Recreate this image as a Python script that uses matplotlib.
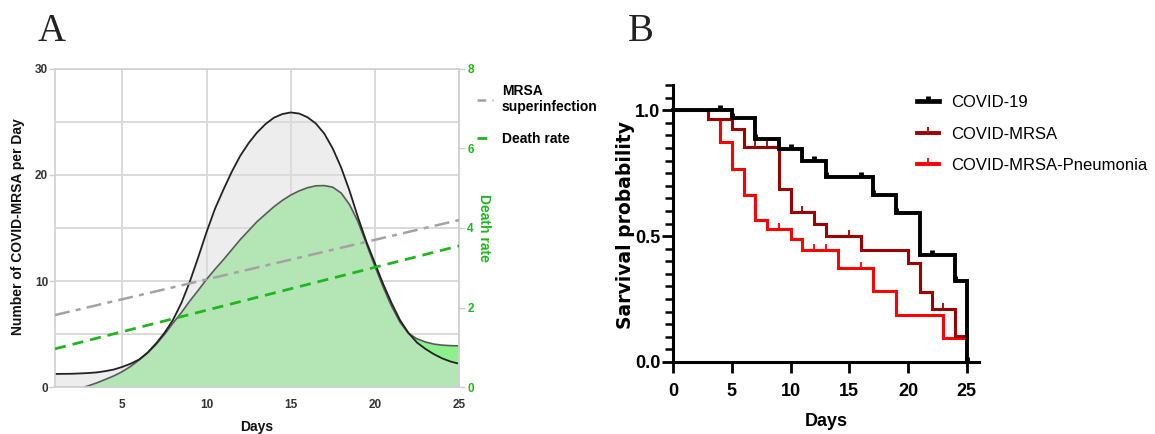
import numpy as np
import matplotlib
matplotlib.use("Agg")
import matplotlib.pyplot as plt
from matplotlib.lines import Line2D
from matplotlib.path import Path
from matplotlib.ticker import FixedLocator, MultipleLocator
from matplotlib import font_manager

plt.rcParams["font.family"] = ["Liberation Sans", "DejaVu Sans"]
installed = {f.name for f in font_manager.fontManager.ttflist}
NARROW = "Liberation Sans Narrow" in installed

# ---------------- panel A data ----------------
mrsa_days = np.arange(1, 25.01, 0.5)
mrsa_cases = [1.23, 1.24, 1.25, 1.28, 1.32, 1.38, 1.50, 1.65, 1.90, 2.20,
              2.60, 3.25, 4.10, 5.10, 6.30, 7.90, 9.90, 12.20, 14.60, 16.80,
              18.60, 20.30, 21.80, 23.00, 24.00, 24.80, 25.40, 25.75, 25.90, 25.80,
              25.45, 24.85, 23.90, 22.50, 20.70, 18.50, 16.00, 13.70, 11.70, 9.70,
              7.90, 6.30, 5.10, 4.20, 3.60, 3.10, 2.70, 2.40, 2.20]

death_days = np.r_[2.75, np.arange(3, 25.01, 0.5)]
death_cases = [0.0, 0.12, 0.40, 0.72, 1.05, 1.45, 1.95, 2.55, 3.20, 4.00,
               4.95, 6.00, 7.00, 8.10, 9.10, 10.15, 11.10, 12.00, 12.95, 13.90,
               14.75, 15.60, 16.30, 17.00, 17.60, 18.10, 18.50, 18.80, 18.98, 19.00,
               18.85, 18.30, 17.20, 15.60, 13.50, 11.40, 9.40, 7.60, 6.10, 5.05,
               4.55, 4.25, 4.05, 3.95, 3.90, 3.88]

trend_days = [1, 25]
mrsa_trend = [1.81, 4.20]     # right axis (rate) units
death_trend = [0.96, 3.55]

# ---------------- panel B data (Kaplan-Meier steps) ----------------
covid_t = [0, 5, 7, 9, 11, 13, 17, 19, 21, 24, 25]
covid_s = [1.0, 0.967, 0.887, 0.847, 0.80, 0.735, 0.665, 0.59, 0.424, 0.32, 0.0]
covid_cens = [4, 5, 7, 10, 12, 13, 16, 17, 19, 22, 24, 25]

mrsa_t = [0, 3, 5, 6, 9, 10, 12, 13, 16, 20, 21, 22, 24, 25]
mrsa_s = [1.0, 0.963, 0.924, 0.853, 0.688, 0.596, 0.549, 0.50, 0.443, 0.393,
          0.277, 0.21, 0.105, 0.105]
mrsa_cens = [7, 8, 11, 15, 23]

pneu_t = [0, 3, 4, 5, 6, 7, 8, 10, 11, 14, 17, 19, 23, 25]
pneu_s = [1.0, 0.963, 0.872, 0.766, 0.665, 0.563, 0.53, 0.487, 0.445, 0.373,
          0.283, 0.185, 0.097, 0.097]
pneu_cens = [9, 12, 13, 16]

GREEN = "#22b522"
W, H = 1155, 434
fig = plt.figure(figsize=(W / 100, H / 100), dpi=100)

# ================= panel A =================
ax = fig.add_axes([55 / W, 1 - 387 / H, 404 / W, 318 / H])
ax.set_xlim(1, 25)
ax.set_ylim(0, 30)
ax.set_axisbelow(True)

ax.fill_between(death_days, 0, death_cases, color="#8cf08c", lw=0, zorder=1)
ax.fill_between(mrsa_days, 0, mrsa_cases, color="#dcdcdc", alpha=0.5, lw=0, zorder=1.1)
ax.plot(death_days, death_cases, color="#5a5a5a", lw=1.2, zorder=2)
ax.plot(mrsa_days, mrsa_cases, color="#222222", lw=1.3, zorder=2.1)

ax.xaxis.set_major_locator(FixedLocator([5, 10, 15, 20, 25]))
ax.yaxis.set_major_locator(FixedLocator([0, 10, 20, 30]))
ax.yaxis.set_minor_locator(FixedLocator([5, 15, 25]))
ax.grid(True, which="both", color="#d9d9d9", lw=1.4)
ax.tick_params(axis="x", length=0, pad=9, labelsize=8.5, labelcolor="#333333")
ax.tick_params(axis="y", which="major", length=4, width=1, color="#cccccc",
               pad=1, labelsize=8.5, labelcolor="#333333")
ax.tick_params(axis="y", which="minor", length=0)
for lab in ax.get_xticklabels() + ax.get_yticklabels():
    lab.set_fontweight("bold")
for sp in ax.spines.values():
    sp.set_color("#d0d0d0")
    sp.set_linewidth(1.2)

ax.set_xlabel("Days", fontsize=10, fontweight="bold", color="#111111")
ax.xaxis.set_label_coords(0.5, -0.104)
ax.set_ylabel("Number of COVID-MRSA per Day", fontsize=10, fontweight="bold",
              color="#111111")
ax.yaxis.set_label_coords(-0.075, 0.505)

ax2 = ax.twinx()
ax2.set_ylim(0, 8)
ax2.set_yticks([0, 2, 4, 6, 8])
ax2.plot(trend_days, mrsa_trend, color="#a3a3a3", lw=1.8,
         dashes=(6, 2.5, 2, 2.5), zorder=3)
ax2.plot(trend_days, death_trend, color=GREEN, lw=2.0,
         dashes=(4, 2.5), zorder=3)
ax2.tick_params(axis="y", length=4, width=1, color="#cccccc", pad=2,
                labelsize=8.5, labelcolor=GREEN)
for lab in ax2.get_yticklabels():
    lab.set_fontweight("bold")
for name, sp in ax2.spines.items():
    sp.set_visible(name == "right")
    sp.set_color("#d0d0d0")
    sp.set_linewidth(1.2)
ax2.set_ylabel("Death rate", rotation=270, va="bottom", fontsize=10,
               fontweight="bold", color=GREEN)
ax2.yaxis.set_label_coords(1.045, 0.50)

h_mrsa = Line2D([], [], color="#a3a3a3", lw=1.8, dashes=(3.5, 2.5))
h_death = Line2D([], [], color=GREEN, lw=2.0, dashes=(3.5, 2.5))
ax.legend([h_mrsa, h_death], ["MRSA\nsuperinfection", "Death rate"],
          loc="upper left", bbox_to_anchor=(477 / W, 1 - 84 / H),
          bbox_transform=fig.transFigure, frameon=False,
          prop=dict(weight="bold", size=10), handlelength=1.15,
          handletextpad=0.65, labelspacing=1.3, borderpad=0, borderaxespad=0)

# ================= panel B =================
bx = fig.add_axes([673 / W, 1 - 362 / H, 305.5 / W, 277 / H])
bx.set_xlim(0, 26)
bx.set_ylim(0, 1.1)

up_tick = Path([(0, 0), (0, 1)], [Path.MOVETO, Path.LINETO])


def censor_levels(t, s, cens):
    idx = np.searchsorted(t, cens, side="right") - 1
    return np.asarray(s)[idx]


groups = [
    ("COVID-MRSA-Pneumonia", pneu_t, pneu_s, pneu_cens, "#ff0000", 2.2, 9, 1.3),
    ("COVID-MRSA", mrsa_t, mrsa_s, mrsa_cens, "#9e0000", 2.2, 9, 1.3),
    ("COVID-19", covid_t, covid_s, covid_cens, "#000000", 2.8, 7, 3.5),
]
handles = {}
for z, (name, t, s, cens, col, lw, ms, mew) in enumerate(groups):
    bx.step(t, s, where="post", color=col, lw=lw, zorder=3 + z,
            solid_joinstyle="miter", clip_on=False)
    bx.plot(cens, censor_levels(t, s, cens), ls="none", marker=up_tick,
            ms=ms, mew=mew, color=col, zorder=3 + z, clip_on=False)
    handles[name] = Line2D([], [], color=col, lw=lw + 0.6, marker=up_tick,
                           ms=ms, mew=mew)

bx.spines["top"].set_visible(False)
bx.spines["right"].set_visible(False)
for sp in ("left", "bottom"):
    bx.spines[sp].set_linewidth(2.2)
bx.set_xticks([0, 5, 10, 15, 20, 25])
bx.set_yticks([0, 0.5, 1.0])
bx.set_yticklabels(["0.0", "0.5", "1.0"])
bx.yaxis.set_minor_locator(MultipleLocator(0.05))
bx.tick_params(axis="x", length=8, width=2, pad=7, labelsize=13)
bx.tick_params(axis="y", which="major", length=8, width=2, pad=1, labelsize=13)
bx.tick_params(axis="y", which="minor", length=6, width=1.8)
for lab in bx.get_xticklabels() + bx.get_yticklabels():
    lab.set_fontweight("bold")

bx.set_xlabel("Days", fontsize=13, fontweight="bold")
bx.xaxis.set_label_coords(0.5, -0.184)
bx.set_ylabel("Sarvival probability", fontsize=13.5, fontweight="bold",
              family="DejaVu Sans")
bx.yaxis.set_label_coords(-0.124, 0.496)

order = ["COVID-19", "COVID-MRSA", "COVID-MRSA-Pneumonia"]
leg_prop = dict(family="Liberation Sans Narrow", size=14) if NARROW else dict(size=12)
bx.legend([handles[n] for n in order], order, loc="upper left",
          bbox_to_anchor=(917 / W, 1 - 95 / H), bbox_transform=fig.transFigure,
          frameon=False, prop=leg_prop, numpoints=1, handlelength=1.3,
          handletextpad=0.72, labelspacing=1.0, borderpad=0, borderaxespad=0)

# panel letters
fig.text(38 / W, 1 - 41 / H, "A", fontsize=28, family="Liberation Serif",
         color="#222222", va="baseline", ha="left")
fig.text(628 / W, 1 - 41 / H, "B", fontsize=28, family="Liberation Serif",
         color="#222222", va="baseline", ha="left")

fig.savefig("out.png", dpi=100)
